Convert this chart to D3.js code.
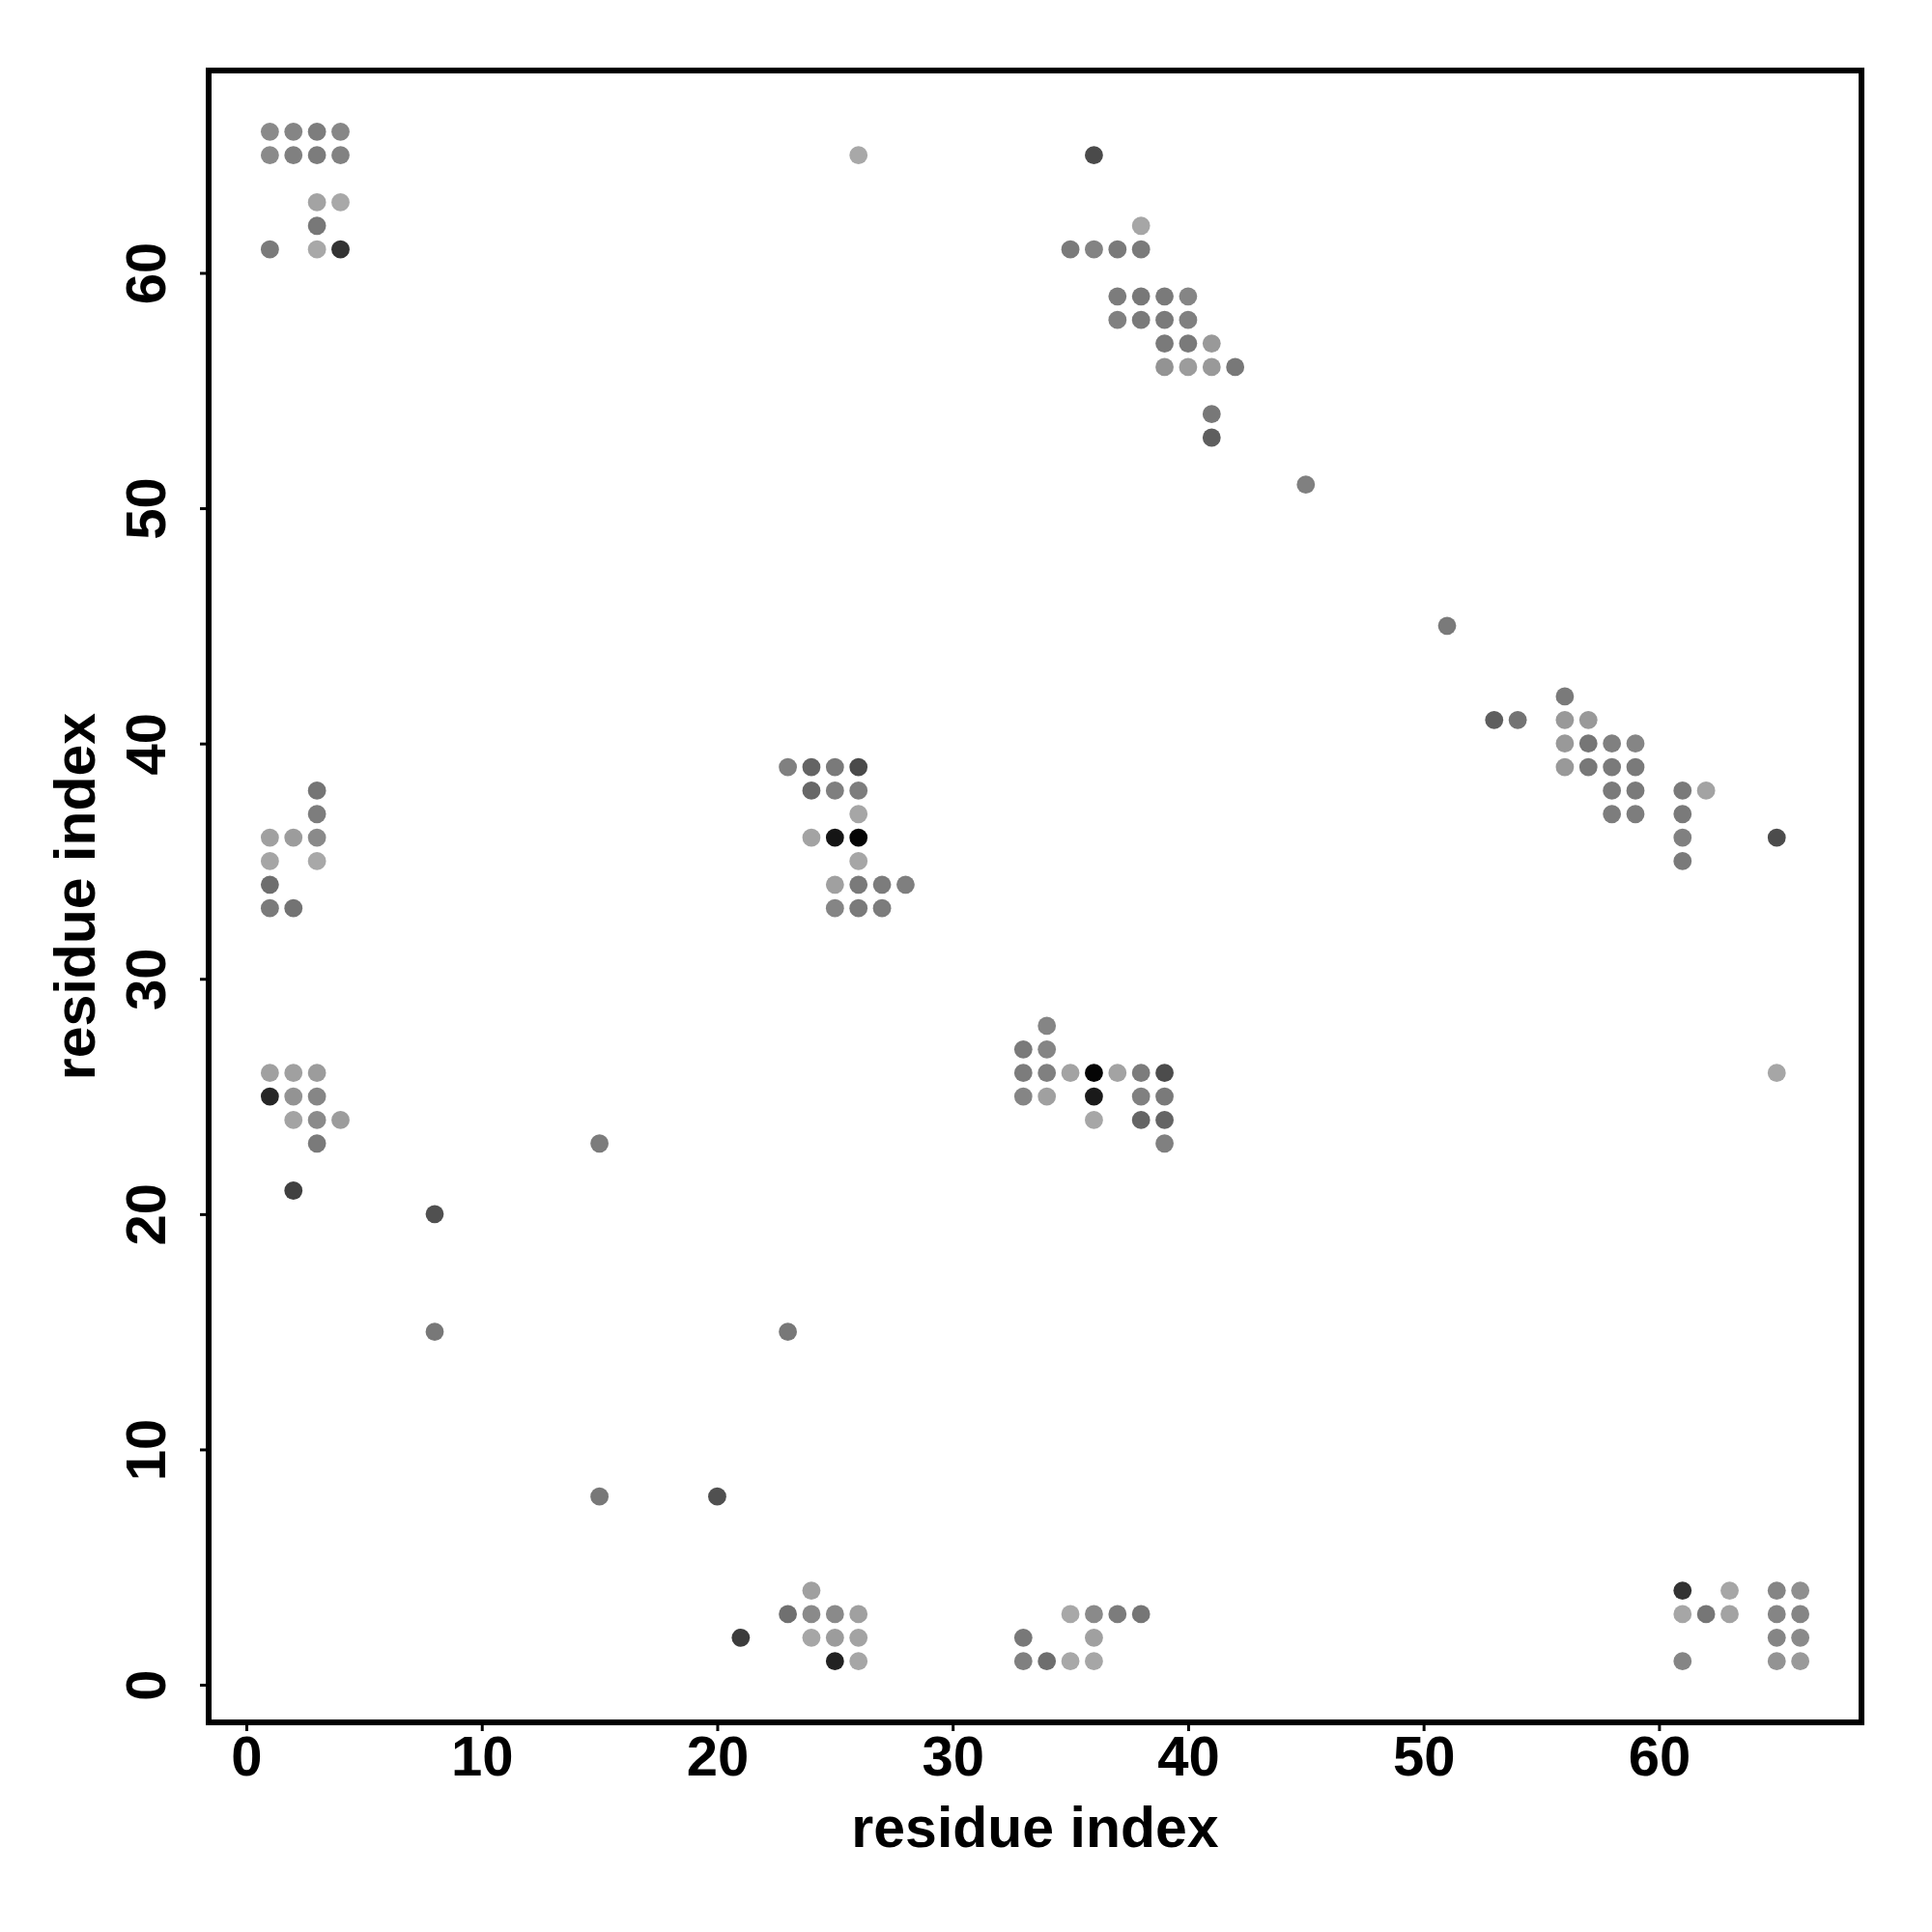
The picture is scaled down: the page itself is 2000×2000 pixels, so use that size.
<!DOCTYPE html>
<html>
<head>
<meta charset="utf-8">
<script src="https://cdn.jsdelivr.net/npm/d3@7"></script>
<style>
  html, body { margin: 0; padding: 0; background: #ffffff; }
  svg { display: block; }
</style>
</head>
<body>
<svg id="chart" width="2000" height="2000"></svg>
<script>
// ---- data ----
const residueI = [
  1,2,3,4, 1,2,3,4, 3,4, 3, 1,3,4,
  26,36,
  38, 35,36,37,38, 37,38,39,40, 37,38,39,40, 39,40,41, 39,40,41,42, 41,41,
  45,51,
  56, 53,54,56,57, 56,57,58,59, 56,57,58,59, 58,59,61,62, 58,59,61, 61,65, 61,
  3,3, 1,2,3, 1,3, 1, 1,2, 1,2,3, 1,2,3, 2,3,4, 3, 2,
  23,24,25,26, 24,25,26, 26, 24,25,26, 26, 25,26,27,28, 25,26,27,
  34, 33,34, 33,34,35,36,37,38,39, 33,34,36,38,39, 36,38,39, 39,
  65,
  15,8,8,23,15,20,
  24, 23,24,25,26, 21,24,25,26, 25,26,
  35,36,37,38, 33,36, 33,34,35,36,
  61,63,65,66, 61,62,63,65,66, 65,66, 61,65,66
];
const residueJ = [
  66,66,66,66, 65,65,65,65, 63,63, 62, 61,61,61,
  65,65,
  62, 61,61,61,61, 59,59,59,59, 58,58,58,58, 57,57,57, 56,56,56,56, 54,53,
  51,45,
  42, 41,41,41,41, 40,40,40,40, 39,39,39,39, 38,38,38,38, 37,37,37, 36,36, 35,
  38,37, 36,36,36, 35,35, 34, 33,33, 26,26,26, 25,25,25, 24,24,24, 23, 21,
  39,39,39,39, 38,38,38, 37, 36,36,36, 35, 34,34,34,34, 33,33,33,
  28, 27,27, 26,26,26,26,26,26,26, 25,25,25,25,25, 24,24,24, 23,
  26,
  23,20,15,15,8,8,
  4, 3,3,3,3, 2,2,2,2, 1,1,
  3,3,3,3, 2,2, 1,1,1,1,
  4,4,4,4, 3,3,3,3,3, 2,2, 1,1,1
];
const greyLevel = [
  138,133,125,135, 138,128,124,130, 163,168, 120, 122,168,51,
  168,74,
  166, 122,131,122,122, 124,120,122,133, 128,122,122,128, 122,122,153, 147,156,153,120, 120,94,
  128,122,
  122, 94,115,153,153, 153,118,128,133, 153,120,122,122, 122,122,122,163, 125,125,122, 128,76, 122,
  117,125, 160,156,138, 165,168, 110, 122,115, 160,160,156, 38,147,134, 163,138,156, 122, 64,
  128,100,122,74, 103,127,125, 166, 163,21,5, 166, 160,122,124,127, 133,122,124,
  133, 122,133, 124,128,163,5,163,124,76, 133,160,26,128,122, 166,100,100, 128,
  166,
  124,80,120,120,120,80,
  160, 112,138,138,160, 60,166,156,163, 34,166,
  168,138,124,118, 120,160, 128,110,168,166,
  51,166,133,143, 166,118,163,133,133, 133,138, 133,147,153
];
const xTickValues = [0, 10, 20, 30, 40, 50, 60];
const yTickValues = [0, 10, 20, 30, 40, 50, 60];
const xTitle = "residue index";
const yTitle = "residue index";

// ---- layout ----
const plot = { left: 216, right: 1927, top: 73, bottom: 1783 };
const fontFamily = "'Liberation Sans', Arial, Helvetica, sans-serif";

const svg = d3.select("#chart");

// R-style 4% padding around the data range
function padded(ext) {
  const d = (ext[1] - ext[0]) * 0.04;
  return [ext[0] - d, ext[1] + d];
}
const x = d3.scaleLinear().domain(padded(d3.extent(residueI))).range([plot.left, plot.right]);
const y = d3.scaleLinear().domain(padded(d3.extent(residueJ))).range([plot.bottom, plot.top]);
const grey = d3.scaleLinear().domain([0, 255]).range(["#000000", "#ffffff"]);

const pts = residueI.map((v, i) => ({ i: v, j: residueJ[i], g: greyLevel[i] }));

// points
svg.append("g")
  .selectAll("circle")
  .data(pts)
  .enter()
  .append("circle")
  .attr("cx", d => x(d.i))
  .attr("cy", d => y(d.j))
  .attr("r", 9.4)
  .attr("fill", d => grey(d.g));

// x axis
const gx = svg.append("g")
  .attr("transform", `translate(0,${plot.bottom})`)
  .call(d3.axisBottom(x).tickValues(xTickValues).tickSize(9).tickPadding(5).tickFormat(d3.format("d")));
gx.select(".domain").remove();
gx.selectAll(".tick line").attr("stroke", "#000").attr("stroke-width", 3);
gx.selectAll(".tick text")
  .attr("font-family", fontFamily)
  .attr("font-weight", "bold")
  .attr("font-size", 58)
  .attr("fill", "#000");

// y axis (labels parallel to the axis)
const gy = svg.append("g")
  .attr("transform", `translate(${plot.left},0)`)
  .call(d3.axisLeft(y).tickValues(yTickValues).tickSize(9).tickFormat(d3.format("d")));
gy.select(".domain").remove();
gy.selectAll(".tick line").attr("stroke", "#000").attr("stroke-width", 3);
gy.selectAll(".tick text")
  .attr("x", null).attr("dy", null)
  .attr("transform", "translate(-45,0) rotate(-90)")
  .attr("text-anchor", "middle")
  .attr("font-family", fontFamily)
  .attr("font-weight", "bold")
  .attr("font-size", 58)
  .attr("fill", "#000");

// box
svg.append("rect")
  .attr("x", plot.left)
  .attr("y", plot.top)
  .attr("width", plot.right - plot.left)
  .attr("height", plot.bottom - plot.top)
  .attr("fill", "none")
  .attr("stroke", "#000")
  .attr("stroke-width", 6);

// axis titles
svg.append("text")
  .attr("x", (plot.left + plot.right) / 2)
  .attr("y", 1912)
  .attr("text-anchor", "middle")
  .attr("font-family", fontFamily)
  .attr("font-weight", "bold")
  .attr("font-size", 59)
  .text(xTitle);

svg.append("text")
  .attr("transform", `translate(98,${(plot.top + plot.bottom) / 2}) rotate(-90)`)
  .attr("text-anchor", "middle")
  .attr("font-family", fontFamily)
  .attr("font-weight", "bold")
  .attr("font-size", 59)
  .text(yTitle);
</script>
</body>
</html>
